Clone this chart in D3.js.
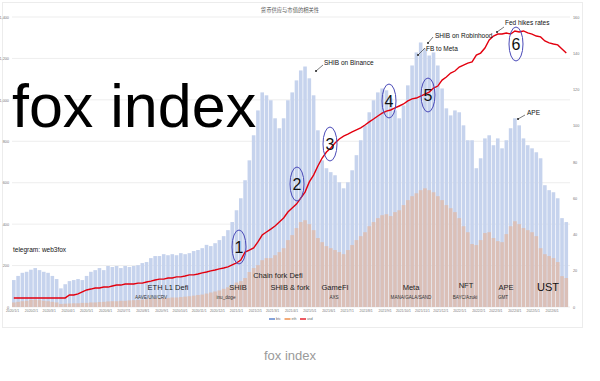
<!DOCTYPE html>
<html><head><meta charset="utf-8">
<script src="https://cdn.jsdelivr.net/npm/d3@7/dist/d3.min.js"></script>
<style>
html,body{margin:0;padding:0;background:#fff;}
svg{display:block;font-family:"Liberation Sans",Arial,sans-serif;}
</style></head>
<body><svg id="c" width="600" height="381"></svg>
<script>
const title = "货币供应与市值的相关性";
const monthLabels = ["2020/1/1","2020/2/1","2020/3/1","2020/4/1","2020/5/1","2020/6/1","2020/7/1","2020/8/1","2020/9/1","2020/10/1","2020/11/1","2020/12/1",
"2021/1/1","2021/2/1","2021/3/1","2021/4/1","2021/5/1","2021/6/1","2021/7/1","2021/8/1","2021/9/1","2021/10/1","2021/11/1","2021/12/1",
"2022/1/1","2022/2/1","2022/3/1","2022/4/1","2022/5/1","2022/6/1"];
const leftTicks = [0,200,400,600,800,1000,1200,1400];
const rightTicks = [0,20,40,60,80,100,120,140,160];
const seriesNames = ["btc","eth","usd"];

const blueValues = [130,150,165,170,180,188,178,170,165,150,135,90,110,125,130,135,130,150,170,178,
188,178,198,193,198,188,198,193,198,202,212,217,236,246,246,255,250,255,250,260,
255,260,270,275,284,300,294,308,323,342,371,410,467,525,612,708,829,949,1036,1022,
998,911,863,911,998,1036,1094,1142,1161,1104,1022,853,708,670,651,636,602,573,602,660,
733,805,877,940,998,1036,1055,1046,1007,949,911,973,1070,1166,1229,1277,1248,1214,1229,1166,
1055,959,925,949,940,877,805,805,670,718,814,829,781,814,766,805,863,911,877,814,
781,766,747,718,588,564,554,525,429,410];

const orangeValues = [22,25,28,30,34,35,33,30,28,25,22,15,16,17,18,18,20,20,22,22,
24,25,27,28,28,30,30,32,33,34,36,38,40,42,42,44,44,46,46,48,
50,52,55,58,60,65,70,75,80,88,95,105,118,125,140,169,188,202,226,236,
236,250,265,284,323,347,381,410,419,400,371,333,313,294,284,275,265,255,275,299,
323,342,361,390,410,429,443,448,439,458,467,492,516,535,549,564,573,564,554,535,
516,492,477,458,429,390,361,304,299,323,357,361,333,318,313,352,390,414,400,381,
371,361,342,284,255,246,236,217,149,140];

const redValues = [5.0,5.0,5.0,5.0,5.0,5.0,5.0,5.0,5.0,5.0,5.0,5.0,5.0,6.6,6.6,7.2,8.3,9.4,9.9,10.5,
10.5,11.0,11.0,11.6,12.1,12.1,12.7,12.7,12.7,13.2,13.2,13.8,14.3,14.9,15.4,15.4,16.0,16.0,16.6,16.6,
17.1,17.7,17.7,18.2,18.8,19.3,19.9,20.4,21.0,21.5,22.1,23.2,24.3,25.9,30.3,31.4,32.6,35.9,39.7,41.4,
43.0,44.7,46.9,49.1,52.4,54.6,56.8,60.1,63.4,69.0,72.8,77.8,82.2,85.5,87.7,90.5,92.7,94.3,95.4,96.6,
97.7,98.8,100.4,102.1,103.7,105.4,107.0,108.1,108.7,109.8,110.9,112.0,113.7,114.8,115.3,116.4,117.5,118.6,120.8,121.9,
125.2,126.9,129.1,130.2,132.4,133.5,134.6,135.2,139.0,140.1,142.9,147.3,149.5,150.6,150.6,151.2,150.6,152.3,151.7,152.3,
151.2,150.6,149.5,149.0,146.8,145.7,145.1,144.6,142.3,140.1];

const phaseLabels = [
  {t:"ETH L1 Defi", x:168, y:287},{t:"SHIB", x:238, y:287},{t:"Chain fork Defi", x:278, y:275},
  {t:"SHIB & fork", x:290, y:287},{t:"GameFI", x:335, y:287},{t:"Meta", x:411, y:287},
  {t:"NFT", x:466, y:285},{t:"APE", x:506, y:287}];
const subLabels = [
  {t:"AAVE/UNI/CRV", x:151},{t:"inu_doge", x:226},{t:"AXS", x:334},
  {t:"MANA/GALA/SAND", x:411},{t:"BAYC/Azuki", x:465},{t:"GMT", x:503}];
const events = [
  {t:"SHIB on Binance", d:[316,71], e:[323,65], tx:324, ty:63},
  {t:"FB to Meta", d:[418,55], e:[425,48], tx:426, ty:49},
  {t:"SHIB on Robinhood", d:[428,43], e:[433,37], tx:435, ty:36},
  {t:"Fed hikes rates", d:[497,32], e:[504,27], tx:505, ty:23},
  {t:"APE", d:[518,119], e:[525,115], tx:527, ty:113}];
const circles = [
  {n:"1", x:239, y:247},{n:"2", x:297, y:184},{n:"3", x:330, y:144},
  {n:"4", x:389, y:101},{n:"5", x:428, y:95},{n:"6", x:516, y:44}];

const svg = d3.select("#c");
const X0 = 12, X1 = 570, Y0 = 307, Y1 = 17;
const start = new Date(2020,0,1), end = new Date(2022,6,1);
const weeks = d3.timeDay.range(start, new Date(2022,5,30), 7).slice(0, blueValues.length);
const x = d3.scaleTime().domain([start, end]).range([X0, X1]);
const yL = d3.scaleLinear().domain([0,1400]).range([Y0, Y1]);
const yR = d3.scaleLinear().domain([0,160]).range([Y0, Y1]);
const step = x(weeks[1]) - x(weeks[0]);
const bw = step*0.84;

// card
svg.append("rect").attr("x",2.5).attr("y",2.5).attr("width",580).attr("height",325)
  .attr("fill","#fff").attr("stroke","#ececec");

// title
svg.append("text").attr("x",290).attr("y",11.5).attr("text-anchor","middle")
  .attr("font-size",5.3).attr("fill","#555").attr("font-family","Noto Sans CJK SC").text(title);

// gridlines
svg.append("g").selectAll("line").data(leftTicks).join("line")
  .attr("x1",X0).attr("x2",X1).attr("y1",d=>yL(d)).attr("y2",d=>yL(d))
  .attr("stroke","#e9e9e9").attr("stroke-width",0.8);

// axes
const ga = svg.append("g").attr("transform",`translate(${X0},0)`)
  .call(d3.axisLeft(yL).tickValues(leftTicks).tickSize(0).tickPadding(3));
ga.select(".domain").remove();
ga.selectAll("text").attr("font-size",3.8).attr("fill","#777");
const gr = svg.append("g").attr("transform",`translate(${X1},0)`)
  .call(d3.axisRight(yR).tickValues(rightTicks).tickSize(0).tickPadding(3));
gr.select(".domain").remove();
gr.selectAll("text").attr("font-size",3.8).attr("fill","#777");

// bars
svg.append("g").selectAll("rect").data(blueValues).join("rect")
  .attr("x",(d,i)=>x(weeks[i])).attr("width",bw)
  .attr("y",d=>yL(d)).attr("height",d=>Y0-yL(d)).attr("fill","#c6d3ed");
svg.append("g").selectAll("rect").data(orangeValues).join("rect")
  .attr("x",(d,i)=>x(weeks[i])).attr("width",bw)
  .attr("y",d=>yL(d)).attr("height",d=>Y0-yL(d)).attr("fill","#dbc0b8");

// x axis
const monthDates = monthLabels.map(s=>{const [a,b,c]=s.split("/").map(Number);return new Date(a,b-1,c);});
const gx = svg.append("g").attr("transform",`translate(0,${Y0})`)
  .call(d3.axisBottom(x).tickValues(monthDates).tickFormat((d,i)=>monthLabels[i]).tickSize(0).tickPadding(3));
gx.select(".domain").remove();
gx.selectAll("text").attr("font-size",3.4).attr("fill","#777");

// red line
svg.append("path").datum(redValues)
  .attr("d", d3.line().x((d,i)=>x(weeks[i])+bw/2).y(d=>yR(d)))
  .attr("fill","none").attr("stroke","#e3000f").attr("stroke-width",1.4);

// phase labels
svg.append("g").selectAll("text").data(phaseLabels).join("text")
  .attr("x",d=>d.x).attr("y",d=>d.y+2.5).attr("text-anchor","middle")
  .attr("font-size",7.5).attr("fill","#222").text(d=>d.t);
svg.append("text").attr("x",548).attr("y",291).attr("text-anchor","middle")
  .attr("font-size",11).attr("fill","#111").text("UST");
svg.append("g").selectAll("text").data(subLabels).join("text")
  .attr("x",d=>d.x).attr("y",298.5).attr("text-anchor","middle")
  .attr("font-size",4.6).attr("fill","#333").text(d=>d.t);

// event annotations
const ev = svg.append("g").selectAll("g").data(events).join("g");
ev.append("line").attr("x1",d=>d.d[0]).attr("y1",d=>d.d[1]).attr("x2",d=>d.e[0]).attr("y2",d=>d.e[1])
  .attr("stroke","#222").attr("stroke-width",0.6);
ev.append("circle").attr("cx",d=>d.d[0]).attr("cy",d=>d.d[1]).attr("r",1).attr("fill","#222");
ev.append("text").attr("x",d=>d.tx).attr("y",d=>d.ty+2.3).attr("font-size",6.5).attr("fill","#111").text(d=>d.t);

// circled numbers
const cg = svg.append("g").selectAll("g").data(circles).join("g");
cg.append("ellipse").attr("cx",d=>d.x).attr("cy",d=>d.y).attr("rx",7).attr("ry",17)
  .attr("fill","none").attr("stroke","#4a4ab8").attr("stroke-width",1);
cg.append("text").attr("x",d=>d.x).attr("y",d=>d.y+6).attr("text-anchor","middle")
  .attr("font-size",16).attr("fill","#111").text(d=>d.n);

// telegram
svg.append("text").attr("x",13).attr("y",252).attr("font-size",6.5).attr("fill","#111").text("telegram: web3fox");

// big watermark
svg.append("text").attr("x",12).attr("y",127).attr("font-size",61).attr("fill","#000").text("fox index");

// legend
const legColors = ["#4472c4","#ed7d31","#e3000f"];
const lg = svg.append("g").selectAll("g").data(seriesNames).join("g")
  .attr("transform",(d,i)=>`translate(${269+i*15.5},319)`);
lg.append("line").attr("x1",0).attr("x2",6).attr("stroke",(d,i)=>legColors[i]).attr("stroke-width",1.3);
lg.append("text").attr("x",7).attr("y",1.2).attr("font-size",3.5).attr("fill","#666").text(d=>d);

// caption
svg.append("text").attr("x",290).attr("y",360).attr("text-anchor","middle")
  .attr("font-size",13).attr("fill","#9a9a9a").text("fox index");
</script></body></html>
